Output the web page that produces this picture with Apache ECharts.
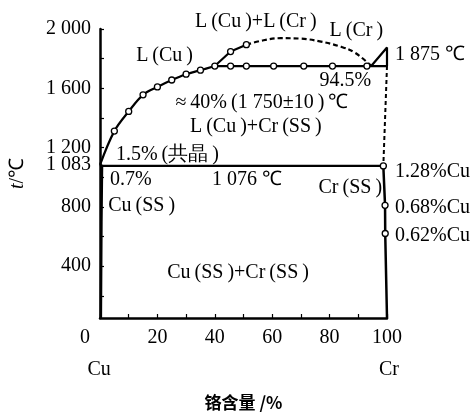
<!DOCTYPE html>
<html>
<head>
<meta charset="utf-8">
<script src="https://cdn.jsdelivr.net/npm/echarts@6/dist/echarts.min.js"></script>
<style>
  html, body { margin: 0; padding: 0; background: #fff; }
  #chart { width: 475px; height: 416px; }
</style>
</head>
<body>
<div id="chart"></div>
<script>
// Cu-Cr phase diagram, x = Cr content (%), y = temperature (°C)
const xTicks = [0, 20, 40, 60, 80, 100];
const xMinor = [0, 10, 20, 30, 40, 50, 60, 70, 80, 90, 100];
const yTicks = [400, 800, 1083, 1200, 1600, 2000];
const yMinor = [200, 400, 600, 800, 1000, 1200, 1400, 1600, 1800, 2000];

const liquidusCu = [[0, 1083], [5, 1311], [10, 1444], [15, 1556], [20, 1609], [25, 1656], [30, 1695], [35, 1722], [40, 1750]];
const monotectic = [[40, 1750], [45.5, 1750], [51, 1750], [60.5, 1750], [71, 1750], [81, 1750], [93, 1750], [100, 1750]];
const domeSolid = [[40, 1750], [45.5, 1848], [51, 1894]];
const domeDashed = [[51, 1894], [57, 1924], [63, 1938], [70, 1935], [77, 1915], [84, 1880], [89, 1838], [94.5, 1750]];
const liquidusCr = [[94.5, 1750], [100, 1875], [100, 1750]];
const solidusCr = [[100, 1750], [98.72, 1076]];
const eutectic = [[0, 1076], [100, 1076]];
const solvusCr = [[98.72, 1076], [99.32, 810], [99.38, 620], [100, 50]];
const solvusCu = [[0, 1083], [0.7, 1076], [0.5, 700], [0.3, 50]];

// text notes: [text, cr %, temperature, align]
const T = '\u2009';
const notes = [
  ['L' + T + '(Cu' + T + ')+L' + T + '(Cr' + T + ')', 54.3, 2046],
  ['L' + T + '(Cr' + T + ')', 89.3, 1987],
  ['L' + T + '(Cu' + T + ')', 22.5, 1821],
  ['1 875 ℃', 102.8, 1828, 'left'],
  ['94.5%', 85.5, 1649],
  ['≈' + T + '40%' + T + '(1 750±10' + T + ')' + T + '℃', 56.4, 1503],
  ['L' + T + '(Cu' + T + ')+Cr' + T + '(SS' + T + ')', 54.3, 1338],
  ['1.5%' + T + '(共晶' + T + ')', 23.5, 1152],
  ['0.7%', 3.5, 980, 'left'],
  ['1 076 ℃', 51.2, 980],
  ['Cr' + T + '(SS' + T + ')', 87.2, 927],
  ['Cu' + T + '(SS' + T + ')', 14.5, 808],
  ['1.28%Cu', 102.8, 1040, 'left'],
  ['0.68%Cu', 102.8, 795, 'left'],
  ['0.62%Cu', 102.8, 603, 'left'],
  ['Cu' + T + '(SS' + T + ')+Cr' + T + '(SS' + T + ')', 48.1, 358],
  ['Cu', -0.3, -298],
  ['Cr', 100.7, -298]
];

const SERIF = 'Liberation Serif';
const FONT = '20px Liberation Serif';

function dots(arr, plain) {
  return arr.map((p, i) => plain.includes(i) ? { value: p, symbol: 'none' } : p);
}

function line(data, opts) {
  return Object.assign({
    type: 'line',
    data: data,
    symbol: 'circle',
    symbolSize: 6,
    showSymbol: true,
    showAllSymbol: true,
    itemStyle: { color: '#fff', borderColor: '#000', borderWidth: 1.3 },
    lineStyle: { color: '#000', width: 2.2 },
    clip: false,
    silent: true
  }, opts);
}

const chart = echarts.init(document.getElementById('chart'));

chart.setOption({
  animation: false,
  backgroundColor: '#fff',
  grid: { left: 98, right: 88, top: 29, bottom: 93 },
  xAxis: {
    type: 'value',
    min: 0,
    max: 100,
    interval: 10,
    name: '铬含量 /%',
    nameLocation: 'middle',
    nameGap: 76,
    nameTextStyle: { fontFamily: 'Noto Sans CJK SC', fontSize: 17, fontWeight: 'bold', color: '#000' },
    axisLine: { lineStyle: { color: '#000', width: 2.5 } },
    axisTick: { inside: true, length: 4, customValues: xMinor, lineStyle: { color: '#000', width: 1.2 } },
    axisLabel: {
      customValues: xTicks,
      color: '#000',
      fontFamily: SERIF,
      fontSize: 20,
      margin: 10,
      formatter: v => v === 0 ? '{z|0}' : String(v),
      rich: { z: { fontFamily: SERIF, fontSize: 20, color: '#000', padding: [0, 30, 0, 0] } }
    },
    splitLine: { show: false }
  },
  yAxis: {
    type: 'value',
    min: 50,
    max: 2000,
    name: '{i|t}/℃',
    nameLocation: 'middle',
    nameRotate: 90,
    nameGap: 72,
    nameTextStyle: {
      fontFamily: SERIF, fontSize: 20, color: '#000',
      rich: { i: { fontFamily: SERIF, fontStyle: 'italic', fontSize: 20, color: '#000' } }
    },
    axisLine: { lineStyle: { color: '#000', width: 2.5 } },
    axisTick: { inside: true, length: 4, customValues: yMinor, lineStyle: { color: '#000', width: 1.2 } },
    axisLabel: {
      customValues: yTicks,
      color: '#000',
      fontFamily: SERIF,
      fontSize: 20,
      margin: 9,
      formatter: v => v >= 1000 ? String(v).replace(/^(\d)(\d{3})$/, '$1 $2') : String(v)
    },
    splitLine: { show: false }
  },
  series: [
    line(eutectic, { symbol: 'none' }),
    line(solvusCu, { symbol: 'none', lineStyle: { color: '#000', width: 2.5 } }),
    line(dots(liquidusCu, [0]), { smooth: 0.35 }),
    line(dots(monotectic, [0, 7]), {}),
    line(dots(domeSolid, [0]), {}),
    line(domeDashed, { symbol: 'none', smooth: 0.4, lineStyle: { color: '#000', width: 2.2, type: [5, 3] } }),
    line(liquidusCr, { symbol: 'none' }),
    line(solidusCr, { symbol: 'none', lineStyle: { color: '#000', width: 2, type: [4, 3] } }),
    line(dots(solvusCr, [3]), { lineStyle: { color: '#000', width: 2.5 } })
  ]
});

chart.setOption({
  graphic: notes.map(n => {
    const p = chart.convertToPixel({ gridIndex: 0 }, [n[1], n[2]]);
    return {
      type: 'text',
      x: p[0],
      y: p[1],
      silent: true,
      style: { text: n[0], font: FONT, fill: '#000', align: n[3] || 'center', verticalAlign: 'middle' }
    };
  })
});
</script>
</body>
</html>
